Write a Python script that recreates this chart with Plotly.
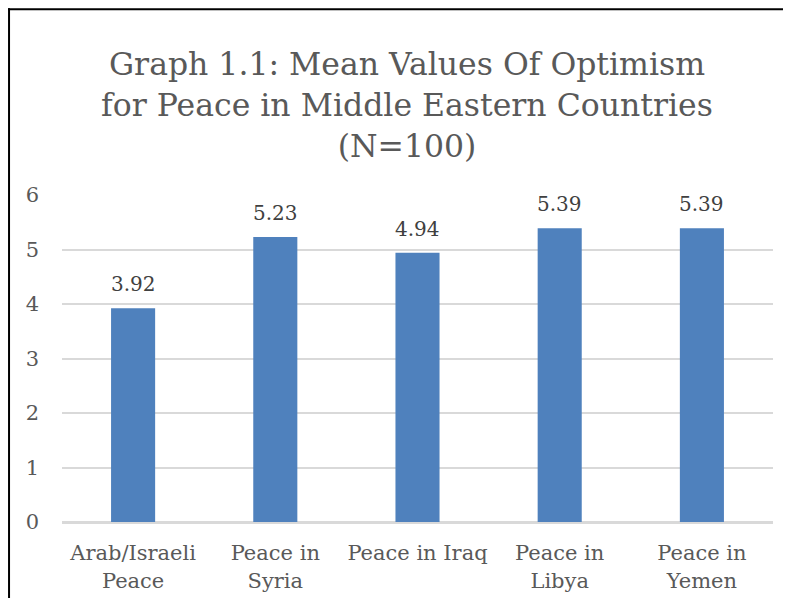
import plotly.graph_objects as go

categories = ["Arab/Israeli<br>Peace", "Peace in<br>Syria", "Peace in Iraq", "Peace in<br>Libya", "Peace in<br>Yemen"]
values = [3.92, 5.23, 4.94, 5.39, 5.39]
value_labels = ["3.92", "5.23", "4.94", "5.39", "5.39"]
y_ticks = [0, 1, 2, 3, 4, 5, 6]

# The page body has an 8px margin; keep the figure small enough that the
# page needs no scrollbars (figure coords = page coords - 8).
OFF = 8
PAGE_W, PAGE_H = 791, 606
W, H = PAGE_W - 2 * OFF, PAGE_H - 2 * OFF
ML = 62 - OFF
MT = 194.7 - OFF
plot_right = 773.5 - OFF
plot_bottom = 521.7 - OFF
MR = W - plot_right
MB = H - plot_bottom
pw = plot_right - ML
ph = plot_bottom - MT

fig = go.Figure()
fig.add_trace(go.Bar(
    x=categories, y=values, width=0.31,
    marker=dict(color="#4F81BD", line=dict(width=0)),
    hoverinfo="skip",
))

for c, v, t in zip(categories, values, value_labels):
    fig.add_annotation(x=c, y=v, text=t, showarrow=False, yanchor="bottom",
                       yshift=10, font=dict(family="DejaVu Serif", size=20, color="#404040"))

def px_to_paper_x(px):
    return (px - OFF - ML) / pw

def px_to_paper_y(py):
    return (plot_bottom - (py - OFF)) / ph

# outer frame: only the top and left edges fall inside the picture
fig.add_shape(type="line", xref="paper", yref="paper",
              x0=px_to_paper_x(8), x1=px_to_paper_x(PAGE_W + 5),
              y0=px_to_paper_y(9), y1=px_to_paper_y(9),
              line=dict(color="black", width=2), layer="above")
fig.add_shape(type="line", xref="paper", yref="paper",
              x0=px_to_paper_x(9), x1=px_to_paper_x(9),
              y0=px_to_paper_y(8), y1=px_to_paper_y(PAGE_H + 5),
              line=dict(color="black", width=2), layer="above")

fig.update_layout(
    width=W, height=H,
    margin=dict(l=ML, r=MR, t=MT, b=MB, pad=0, autoexpand=False),
    paper_bgcolor="white", plot_bgcolor="white",
    showlegend=False,
    title=dict(text="Graph 1.1: Mean Values Of Optimism<br>for Peace in Middle Eastern Countries<br>(N=100)",
               x=(407 - OFF) / W, xref="container", xanchor="center",
               y=1 - 67 / H, yref="container", yanchor="top",
               font=dict(family="DejaVu Serif", size=31.5, color="#595959")),
)
fig.update_xaxes(showgrid=False, showline=True, linecolor="#D9D9D9", linewidth=2,
                 ticks="", ticklabelstandoff=11, automargin=False,
                 tickfont=dict(family="DejaVu Serif", size=21, color="#595959"),
                 fixedrange=True)
fig.update_yaxes(range=[0, 6], tickvals=y_ticks, showgrid=True, gridcolor="#D9D9D9", gridwidth=2,
                 zeroline=True, zerolinecolor="#D9D9D9", zerolinewidth=2, showline=False,
                 ticks="", ticklabelstandoff=22, automargin=False,
                 tickfont=dict(family="DejaVu Serif", size=21, color="#595959"), fixedrange=True)

fig.write_html("out.html")
